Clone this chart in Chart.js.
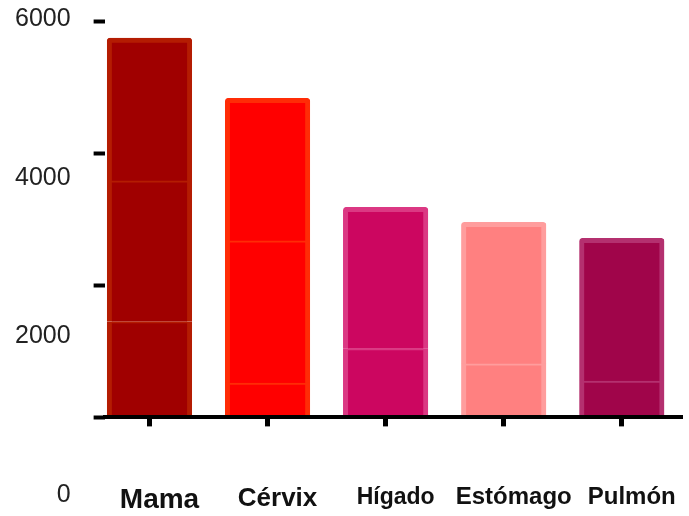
<!DOCTYPE html>
<html>
<head>
<meta charset="utf-8">
<script src="https://cdn.jsdelivr.net/npm/chart.js@4/dist/chart.umd.min.js"></script>
<style>
  html, body { margin: 0; padding: 0; background: #ffffff; }
  #lienzo { display: block; }
</style>
</head>
<body>
<canvas id="lienzo" width="689" height="516"></canvas>
<script>
// Casos por localización: cada barra se apila en tramos
const categorias = ['Mama', 'Cérvix', 'Hígado', 'Estómago', 'Pulmón'];
const tramoInferior = [1450, 520, 1040, 810, 550];
const tramoMedio = [2130, 2150, 2140, 2140, 2160];
const tramoSuperior = [2160, 2160, null, null, null];
const marcasEje = [0, 2000, 4000, 6000];
const etiquetasEje = ['0', '2000', '4000', '6000'];

// Estilo
const colorRelleno = ['#a00000', '#ff0000', '#cc0660', '#ff8080', '#a0054a'];
const colorBorde = ['#b41c02', '#ff2c06', '#db3883', '#ff9d9d', '#b4306f'];
const tamanoCategoria = [28, 26, 23, 24, 24];
const familia = "'Liberation Sans', Arial, sans-serif";
const invisible = 'rgba(0,0,0,0)';

// ¿Es el último tramo con valor de su barra?
function esTramoSuperior(ctx) {
  const conjuntos = ctx.chart.data.datasets;
  for (let d = ctx.datasetIndex + 1; d < conjuntos.length; d++) {
    const punto = conjuntos[d].data[ctx.dataIndex];
    if (punto && punto.y != null) return false;
  }
  return true;
}

const tramos = [tramoInferior, tramoMedio, tramoSuperior].map((datos, k) => ({
  label: 'Tramo ' + (k + 1),
  data: datos.map((v, i) => ({ x: i, y: v })),
  xAxisID: 'x',
  yAxisID: 'y',
  backgroundColor: colorRelleno,
  borderColor: colorBorde,
  borderWidth: ctx => ({ top: esTramoSuperior(ctx) ? 5 : 2, left: 5, right: 5, bottom: 0 }),
  borderRadius: ctx => esTramoSuperior(ctx)
    ? { topLeft: 3, topRight: 3, bottomLeft: 0, bottomRight: 0 } : 0,
  borderSkipped: false,
  inflateAmount: 0.4,
  barPercentage: 0.715,
  categoryPercentage: 1
}));

const rangoX = { min: -0.38, max: 4.51 };

Chart.defaults.font.family = familia;

new Chart(document.getElementById('lienzo'), {
  type: 'bar',
  data: { datasets: tramos },
  options: {
    responsive: false,
    devicePixelRatio: 1,
    animation: false,
    layout: { padding: { top: 21, right: 7, bottom: -3, left: 9 } },
    plugins: { legend: { display: false }, tooltip: { enabled: false } },
    scales: {
      // Eje de categorías: línea base y marcas bajo cada barra
      x: {
        type: 'linear',
        position: 'bottom',
        weight: 0,
        stacked: true,
        offset: false,
        min: rangoX.min,
        max: rangoX.max,
        afterBuildTicks: escala => { escala.ticks = categorias.map((_, i) => ({ value: i })); },
        grid: {
          display: true, drawOnChartArea: false, drawTicks: true, offset: false,
          tickLength: 9, tickWidth: 5, tickColor: '#000000'
        },
        border: { display: true, color: '#000000', width: 4, z: 1 },
        ticks: { display: false }
      },
      // Nombres de las categorías
      xRotulos: {
        type: 'linear',
        axis: 'x',
        position: 'bottom',
        weight: 1,
        offset: false,
        min: rangoX.min,
        max: rangoX.max,
        afterBuildTicks: escala => { escala.ticks = categorias.map((_, i) => ({ value: i })); },
        grid: {
          display: true, drawOnChartArea: false, drawTicks: true, offset: false,
          tickLength: 55, tickColor: invisible
        },
        border: { display: false },
        ticks: {
          autoSkip: false, maxRotation: 0, padding: 2, labelOffset: 10,
          color: '#111111',
          callback: valor => categorias[valor],
          font: ctx => ({ family: familia, weight: 'bold', size: tamanoCategoria[ctx.index] || 24 })
        }
      },
      // Escala de valores de las barras (solo marcas)
      y: {
        type: 'linear',
        position: 'left',
        weight: 0,
        stacked: true,
        min: 0,
        max: 6000,
        ticks: { display: false, stepSize: 2000 },
        border: { display: false },
        grid: {
          drawOnChartArea: false, drawTicks: true,
          tickLength: 11, tickWidth: 4, tickColor: '#000000'
        }
      },
      // Rótulos numéricos del eje vertical
      yRotulos: {
        type: 'linear',
        axis: 'y',
        position: 'left',
        weight: 1,
        min: 977,
        max: 5975,
        afterBuildTicks: escala => { escala.ticks = marcasEje.map(v => ({ value: v })); },
        ticks: {
          autoSkip: false, padding: 6, color: '#222222',
          font: { family: familia, size: 25 },
          callback: (valor, i) => etiquetasEje[i]
        },
        grid: {
          display: true, drawOnChartArea: false, drawTicks: true,
          tickLength: 17, tickColor: invisible
        },
        border: { display: false }
      }
    }
  }
});
</script>
</body>
</html>
